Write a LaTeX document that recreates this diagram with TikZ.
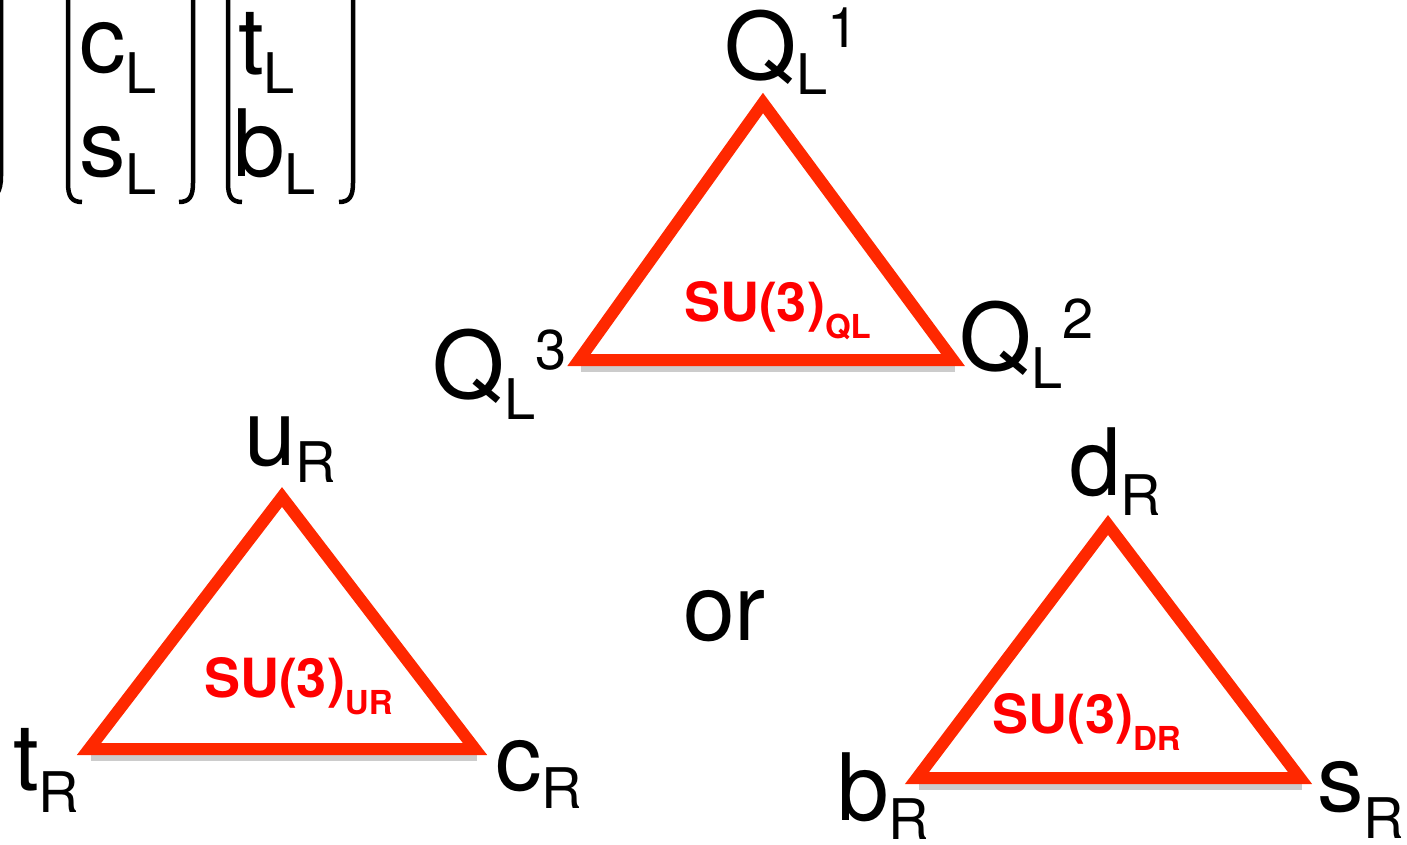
\documentclass[tikz,border=0pt]{standalone}
\usepackage{fontspec}
\setmainfont{TeX Gyre Heros}
\usetikzlibrary{calc}
\definecolor{trired}{RGB}{255,40,0}
\definecolor{sured}{RGB}{255,0,0}
\newcommand{\bigf}{\fontsize{93}{93}\selectfont}
\newcommand{\subf}{\fontsize{56}{56}\selectfont}
\newcommand{\suf}{\fontsize{54}{54}\selectfont\bfseries}
\newcommand{\susubf}{\fontsize{33}{33}\selectfont\bfseries}
\newcommand{\qk}[3][18]{{\bigf #2}\raisebox{-#1pt}{\subf #3}}
\newcommand{\sulab}[1]{{\suf SU(3)}\raisebox{-17pt}{\susubf #1}}
\begin{document}
\begin{tikzpicture}[x=1pt,y=-1pt,
  tri/.style={draw=trired,line width=12pt,line join=miter},
  shadowline/.style={draw=black,line width=7pt,opacity=0.2},
  brak/.style={draw=black,line width=4.5pt,line cap=butt},
  lab/.style={anchor=base west,inner sep=0pt,outer sep=0pt},
  sulabel/.style={anchor=base west,inner sep=0pt,outer sep=0pt,text=sured}]
\useasboundingbox (0,0) rectangle (1407,845);
\clip (0,0) rectangle (1407,845);

% ---- brackets (top left, cut at top) ----
\draw[brak] (1,-10) -- (1,176) .. controls (1,192) and (-4,198) .. (-14,200);
\draw[brak] (68,-10) -- (68,183) .. controls (68,197) and (72,202) .. (82,202);
\draw[brak] (193,-10) -- (193,183) .. controls (193,197) and (189,202) .. (179,202);
\draw[brak] (228,-10) -- (228,183) .. controls (228,197) and (232,202) .. (242,202);
\draw[brak] (353,-10) -- (353,183) .. controls (353,197) and (349,202) .. (339,202);

\node[lab] (cL) at (79,73) {\qk[21]{c}{L}};
\node[lab] (sL) at (79,177) {\qk[18]{s}{L}};
\node[lab] (tL) at (238,75) {\qk[19]{t}{L}};
\node[lab] (bL) at (233,177) {\qk[18]{b}{L}};

% ---- triangle Q_L ----
\coordinate (qa) at (763,103);
\coordinate (qb) at (579,360);
\coordinate (qc) at (953,360);
\draw[shadowline] ($(qb)+(2,8)$) -- ($(qc)+(2,8)$);
\draw[tri] (qa) -- (qb) -- (qc) -- cycle;
\node[sulabel] (suq) at (684,321) {\sulab{QL}};
\node[lab] (Q1) at (724,80) {\qk[15]{Q}{L}\raisebox{32pt}{\subf 1}};
\node[lab] (Q2) at (959,370) {\qk[18]{Q}{L}\raisebox{32pt}{\subf 2}};
\node[lab] (Q3) at (432,398) {\qk[21]{Q}{L}\raisebox{29pt}{\subf 3}};

% ---- triangle u_R ----
\coordinate (ua) at (282,497);
\coordinate (ub) at (89,749);
\coordinate (uc) at (475,749);
\draw[shadowline] ($(ub)+(2,8)$) -- ($(uc)+(2,8)$);
\draw[tri] (ua) -- (ub) -- (uc) -- cycle;
\node[sulabel] (suu) at (204,697) {\sulab{UR}};
\node[lab] (uR) at (244,465) {\qk[17]{u}{R}};
\node[lab] (tR) at (13,790) {\qk[22]{t}{R}};
\node[lab] (cR) at (495,790) {\qk[18]{c}{R}};

% ---- triangle d_R ----
\coordinate (da) at (1108,525);
\coordinate (db) at (917,778);
\coordinate (dc) at (1300,778);
\draw[shadowline] ($(db)+(2,8)$) -- ($(dc)+(2,8)$);
\draw[tri] (da) -- (db) -- (dc) -- cycle;
\node[sulabel] (sud) at (992,733) {\sulab{DR}};
\node[lab] (dR) at (1069,495) {\qk[20]{d}{R}};
\node[lab] (bR) at (837,820) {\qk[19]{b}{R}};
\node[lab] (sR) at (1317,811) {\qk[27]{s}{R}};

\node[lab] (or) at (683,640) {\bigf or};
\end{tikzpicture}
\end{document}
